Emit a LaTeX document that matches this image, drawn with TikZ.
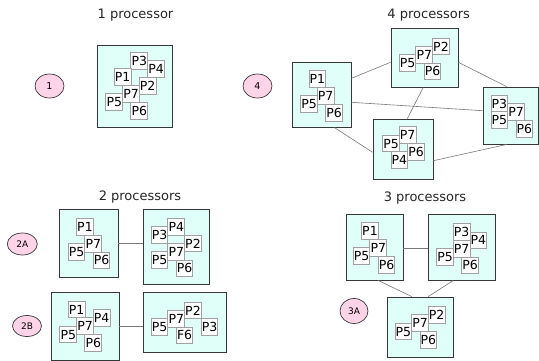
\documentclass[tikz,border=0pt]{standalone}
\usepackage{fontspec}
\setmainfont{DejaVu Sans}
\usetikzlibrary{shapes.geometric}
\definecolor{boxfill}{RGB}{224,255,248}
\definecolor{boxline}{RGB}{55,55,55}
\definecolor{labline}{RGB}{160,160,160}
\definecolor{ellfill}{RGB}{255,212,232}
\definecolor{conn}{RGB}{120,120,120}
\tikzset{
  procbox/.style={draw=boxline, fill=boxfill, line width=0.9pt, inner sep=0pt},
  plabel/.style={draw=labline, fill=white, line width=1pt, inner sep=0pt,
    minimum width=16.67pt, minimum height=16.67pt, font=\fontsize{12.5}{12.5}\selectfont},
  tag/.style={ellipse, draw=boxline, fill=ellfill, line width=0.7pt, inner sep=0pt,
    minimum width=29pt, minimum height=24pt, font=\fontsize{9}{9}\selectfont},
  title/.style={font=\fontsize{13}{13}\selectfont, text=black!85, inner sep=0pt},
  link/.style={draw=conn, line width=0.6pt},
  grid/.style={x=8.333pt, y=-8.333pt}
}
\begin{document}
\begin{tikzpicture}[x=1pt, y=-1pt]
\useasboundingbox (0,0) rectangle (539,361);

% titles
\node[title] (t1) at (135.5,15) {1 processor};
\node[title] (t4) at (428.7,15) {4 processors};
\node[title] (t2) at (140,197) {2 processors};
\node[title] (t3) at (425,197.7) {3 processors};

% tags
\node[tag, font=\fontsize{9.5}{9.5}\selectfont] (e1) at (49.5,86) {1};
\node[tag, font=\fontsize{9.5}{9.5}\selectfont] (e4) at (257.5,86) {4};
\node[tag, minimum width=30pt, minimum height=22pt] (e2a) at (22.3,244) {2A};
\node[tag, minimum height=21pt] (e2b) at (27,326) {2B};
\node[tag, minimum width=28pt, minimum height=25pt] (e3a) at (354,311) {3A};

% processor boxes
\node[procbox, minimum width=75pt, minimum height=82pt] (p1) at (134.5,86) {};
\node[procbox, minimum width=59pt, minimum height=65pt] (p4l) at (321.5,94.5) {};
\node[procbox, minimum width=67pt, minimum height=59pt] (p4t) at (424.5,57.5) {};
\node[procbox, minimum width=60pt, minimum height=60pt] (p4b) at (403,149) {};
\node[procbox, minimum width=55pt, minimum height=57pt] (p4r) at (510.5,115.5) {};
\node[procbox, minimum width=59pt, minimum height=68pt] (p2al) at (88.5,243) {};
\node[procbox, minimum width=66pt, minimum height=75pt] (p2ar) at (176,246.5) {};
\node[procbox, minimum width=68pt, minimum height=68pt] (p2bl) at (85,326) {};
\node[procbox, minimum width=83pt, minimum height=60pt] (p2br) at (184.5,322) {};
\node[procbox, minimum width=57pt, minimum height=66pt] (p3l) at (374.5,247) {};
\node[procbox, minimum width=67pt, minimum height=66pt] (p3r) at (461.5,247) {};
\node[procbox, minimum width=66pt, minimum height=60pt] (p3b) at (420,327) {};

% labels: panel 1
\begin{scope}[shift={(131,94)}, grid]
  \node[plabel] (a7) at (0,0) {P7};
  \node[plabel] (a3) at (1,-4) {P3};
  \node[plabel] (a4) at (3,-3) {P4};
  \node[plabel] (a1) at (-1,-2) {P1};
  \node[plabel] (a2) at (2,-1) {P2};
  \node[plabel] (a5) at (-2,1) {P5};
  \node[plabel] (a6) at (1,2) {P6};
\end{scope}
% panel 4 left
\begin{scope}[shift={(325.7,96)}, grid]
  \node[plabel] (b7) at (0,0) {P7};
  \node[plabel] (b1) at (-1,-2) {P1};
  \node[plabel] (b5) at (-2,1) {P5};
  \node[plabel] (b6) at (1,2) {P6};
\end{scope}
% panel 4 top
\begin{scope}[shift={(424.3,54.7)}, grid]
  \node[plabel] (c7) at (0,0) {P7};
  \node[plabel] (c5) at (-2,1) {P5};
  \node[plabel] (c2) at (2,-1) {P2};
  \node[plabel] (c6) at (1,2) {P6};
\end{scope}
% panel 4 right
\begin{scope}[shift={(516,112)}, grid]
  \node[plabel] (d7) at (0,0) {P7};
  \node[plabel] (d3) at (-2,-1) {P3};
  \node[plabel] (d5) at (-2,1) {P5};
  \node[plabel] (d6) at (1,2) {P6};
\end{scope}
% panel 4 bottom
\begin{scope}[shift={(407.7,135.3)}, grid]
  \node[plabel] (f7) at (0,0) {P7};
  \node[plabel] (f5) at (-2,1) {P5};
  \node[plabel] (f6) at (1,2) {P6};
  \node[plabel] (f4) at (-1,3) {P4};
\end{scope}
% 2A left
\begin{scope}[shift={(93.3,243.7)}, grid]
  \node[plabel] (g7) at (0,0) {P7};
  \node[plabel] (g1) at (-1,-2) {P1};
  \node[plabel] (g5) at (-2,1) {P5};
  \node[plabel] (g6) at (1,2) {P6};
\end{scope}
% 2A right
\begin{scope}[shift={(176.3,251.7)}, grid]
  \node[plabel] (h7) at (0,0) {P7};
  \node[plabel] (h3) at (-2,-2) {P3};
  \node[plabel] (h4) at (0,-3) {P4};
  \node[plabel] (h2) at (2,-1) {P2};
  \node[plabel] (h5) at (-2,1) {P5};
  \node[plabel] (h6) at (1,2) {P6};
\end{scope}
% 2B left
\begin{scope}[shift={(85,326.3)}, grid]
  \node[plabel] (i7) at (0,0) {P7};
  \node[plabel] (i1) at (-1,-2) {P1};
  \node[plabel] (i4) at (2,-1) {P4};
  \node[plabel] (i5) at (-2,1) {P5};
  \node[plabel] (i6) at (1,2) {P6};
\end{scope}
% 2B right
\begin{scope}[shift={(176.3,318.7)}, grid]
  \node[plabel] (j7) at (0,0) {P7};
  \node[plabel] (j5) at (-2,1) {P5};
  \node[plabel] (j2) at (2,-1) {P2};
  \node[plabel] (j6) at (1,2) {F6};
  \node[plabel] (j3) at (4,1) {P3};
\end{scope}
% 3 top left
\begin{scope}[shift={(378.3,248)}, grid]
  \node[plabel] (k7) at (0,0) {P7};
  \node[plabel] (k1) at (-1,-2) {P1};
  \node[plabel] (k5) at (-2,1) {P5};
  \node[plabel] (k6) at (1,2) {P6};
\end{scope}
% 3 top right
\begin{scope}[shift={(461.7,248.7)}, grid]
  \node[plabel] (l7) at (0,0) {P7};
  \node[plabel] (l3) at (0,-2) {P3};
  \node[plabel] (l4) at (2,-1) {P4};
  \node[plabel] (l5) at (-2,1) {P5};
  \node[plabel] (l6) at (1,2) {P6};
\end{scope}
% 3 bottom
\begin{scope}[shift={(420,323.3)}, grid]
  \node[plabel] (m7) at (0,0) {P7};
  \node[plabel] (m2) at (2,-1) {P2};
  \node[plabel] (m5) at (-2,1) {P5};
  \node[plabel] (m6) at (1,2) {P6};
\end{scope}

% connectors: 4 processors
\draw[link] ([yshift=16.2pt]p4l.east) -- ([yshift=-4.8pt]p4t.west);
\draw[link] ([yshift=-7.8pt]p4l.east) -- ([yshift=4.8pt]p4r.west);
\draw[link] ([xshift=12.8pt]p4l.south) -- ([yshift=-3.3pt]p4b.west);
\draw[link] ([xshift=-1.2pt]p4t.south) -- ([xshift=4.3pt]p4b.north);
\draw[link] ([yshift=-4.8pt]p4t.east) -- ([xshift=-4pt]p4r.north);
\draw[link] ([yshift=-11.7pt]p4b.east) -- ([xshift=-4pt]p4r.south);
% 2 processors
\draw[link] ([yshift=-0.3pt]p2al.east) -- ([yshift=-0.3pt]p2al.east -| p2ar.west);
\draw[link] ([yshift=-0.7pt]p2bl.east) -- ([yshift=-0.7pt]p2bl.east -| p2br.west);
% 3 processors
\draw[link] ([yshift=-1.3pt]p3l.east) -- ([yshift=-1.3pt]p3r.west);
\draw[link] ([xshift=3.8pt]p3l.south) -- ([xshift=-8.3pt]p3b.north);
\draw[link] ([xshift=-8.2pt]p3r.south) -- ([xshift=8.3pt]p3b.north);
\end{tikzpicture}
\end{document}
